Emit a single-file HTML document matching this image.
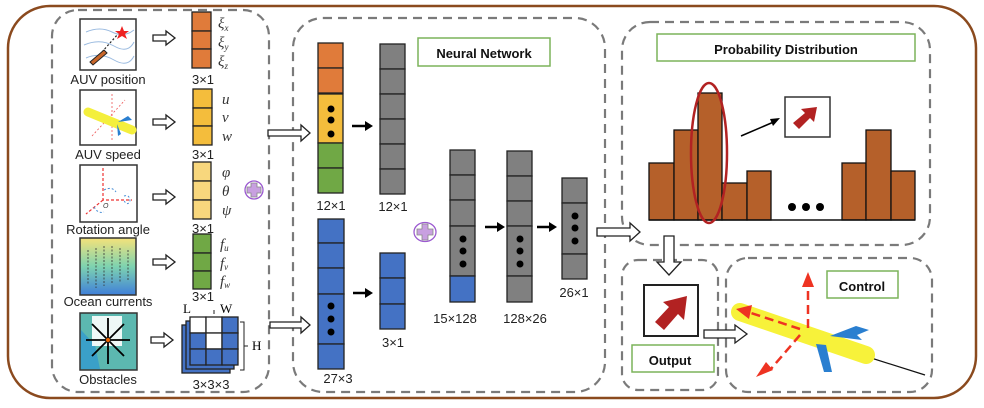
<!DOCTYPE html>
<html><head><meta charset="utf-8"><style>
html,body{margin:0;padding:0;background:#fff;}
svg{display:block;font-family:"Liberation Sans",sans-serif;}
.c{stroke:#222;stroke-width:1.3;}
.d{fill:none;stroke:#7a7a7a;stroke-width:2.2;stroke-dasharray:9 6;}
.h{fill:#fff;stroke:#222;stroke-width:1.3;}
.lb{font-size:13px;fill:#222;text-anchor:middle;}
.g{font-family:"Liberation Serif",serif;font-style:italic;font-size:15px;fill:#333;}
.t{font-weight:bold;font-size:13px;fill:#111;text-anchor:middle;}
</style></head><body>
<svg width="984" height="408" viewBox="0 0 984 408" xmlns="http://www.w3.org/2000/svg">
<rect x="8" y="6" width="968" height="392" rx="42" fill="#fff" stroke="#8b4a1e" stroke-width="2.5"/>
<!-- dashed boxes -->
<rect class="d" x="52" y="10" width="217" height="382" rx="26"/>
<rect class="d" x="293" y="18" width="312" height="374" rx="30"/>
<rect class="d" x="622" y="22" width="308" height="223" rx="28"/>
<rect class="d" x="622" y="260" width="96" height="130" rx="16"/>
<rect class="d" x="726" y="258" width="206" height="134" rx="22"/>

<!-- icons -->
<rect x="80" y="19" width="56" height="51" fill="#fff" stroke="#333" stroke-width="1.5"/>
<path d="M86,32 Q100,26 112,32 T134,30 M84,45 Q100,38 114,46 T134,42 M86,58 Q100,52 114,60 T134,56" fill="none" stroke="#9bbbe0" stroke-width="1"/>
<path d="M102,52 L118,34" stroke="#222" stroke-dasharray="2 2" stroke-width="1.2"/>
<path d="M90,62 L104,50 L107,53 L93,65 Z" fill="#c8662a" stroke="#222" stroke-width="1"/>
<polygon points="122,26 124,31 129,31 125,34 127,39 122,36 117,39 119,34 115,31 120,31" fill="#e22"/>
<text class="lb" x="108" y="84">AUV position</text>

<rect x="80" y="90" width="56" height="55" fill="#fff" stroke="#333" stroke-width="1.5"/>
<path d="M112,94 L112,140 M92,136 L125,100" stroke="#e55" stroke-dasharray="2 2" stroke-width="0.8"/>
<path d="M88,112 L132,130" stroke="#f4ef3c" stroke-width="9" stroke-linecap="round"/>
<path d="M118,122 L128,116 L132,120Z M117,124 L121,134 L118,136Z" fill="#2a7fd0"/>
<text class="lb" x="108" y="159">AUV speed</text>

<rect x="80" y="165" width="57" height="57" fill="#fff" stroke="#333" stroke-width="1.5"/>
<path d="M103,168 L103,200 L132,200 M103,200 L86,214" stroke="#e33" stroke-dasharray="3 2" stroke-width="1.2" fill="none"/>
<path d="M104,190 Q112,186 116,192 M94,207 Q98,214 104,212 M124,196 Q130,194 130,202 Q126,206 124,200" stroke="#4a8fd6" stroke-dasharray="2 2" fill="none"/>
<text x="103" y="208" font-size="7" font-style="italic" fill="#333">O</text>
<text class="lb" x="108" y="234">Rotation angle</text>

<defs><linearGradient id="oc" x1="0" y1="0" x2="0" y2="1"><stop offset="0" stop-color="#f5e27a"/><stop offset="0.5" stop-color="#7ed3b0"/><stop offset="1" stop-color="#3f7fd9"/></linearGradient></defs>
<rect x="80" y="238" width="56" height="57" fill="url(#oc)" stroke="#333" stroke-width="1.5"/>
<path d="M88,250 L88,285 M96,248 L96,288 M104,246 L104,286 M112,246 L112,284 M120,248 L120,282 M128,250 L128,280" stroke="#333" stroke-width="0.8" stroke-dasharray="2 1.5"/>
<text class="lb" x="108" y="306">Ocean currents</text>

<rect x="80" y="313" width="57" height="57" fill="#5cb8b0" stroke="#333" stroke-width="1.5"/>
<path d="M81,330 L95,345 L100,369 L81,369Z" fill="#3aa0c8"/>
<rect x="92" y="316" width="30" height="30" fill="#fff" opacity="0.9"/>
<g stroke="#000" stroke-width="1.8"><path d="M108,340 L108,318 M108,340 L108,364 M108,340 L86,340 M108,340 L130,340 M108,340 L92,324 M108,340 L124,324 M108,340 L92,356 M108,340 L124,356"/></g>
<circle cx="108" cy="340" r="2" fill="#e60"/>
<text class="lb" x="108" y="384">Obstacles</text>

<!-- hollow arrows left -->
<path class="h" d="M153,35 H166 V31 L175,38 L166,45 V41 H153Z"/>
<path class="h" d="M153,119 H166 V115 L175,122 L166,129 V125 H153Z"/>
<path class="h" d="M153,194 H166 V190 L175,197 L166,204 V200 H153Z"/>
<path class="h" d="M153,259 H166 V255 L175,262 L166,269 V265 H153Z"/>
<path class="h" d="M151,337 H164 V333 L173,340 L164,347 V343 H151Z"/>

<!-- input vectors -->
<g class="c">
<rect x="192" y="12" width="19" height="19" fill="#e07b3a"/><rect x="192" y="31" width="19" height="18" fill="#e07b3a"/><rect x="192" y="49" width="19" height="19" fill="#e07b3a"/>
<rect x="193" y="89" width="19" height="19" fill="#f4bd3c"/><rect x="193" y="108" width="19" height="18" fill="#f4bd3c"/><rect x="193" y="126" width="19" height="19" fill="#f4bd3c"/>
<rect x="193" y="162" width="18" height="19" fill="#f8d77d"/><rect x="193" y="181" width="18" height="19" fill="#f8d77d"/><rect x="193" y="200" width="18" height="19" fill="#f8d77d"/>
<rect x="193" y="234" width="18" height="19" fill="#70a845"/><rect x="193" y="253" width="18" height="18" fill="#70a845"/><rect x="193" y="271" width="18" height="18" fill="#70a845"/>
</g>
<text class="g" x="218" y="28">ξ<tspan font-size="9" dy="3">x</tspan></text>
<text class="g" x="218" y="47">ξ<tspan font-size="9" dy="3">y</tspan></text>
<text class="g" x="218" y="66">ξ<tspan font-size="9" dy="3">z</tspan></text>
<text class="lb" x="203" y="84">3×1</text>
<text class="g" x="222" y="104">u</text><text class="g" x="222" y="122">v</text><text class="g" x="222" y="141">w</text>
<text class="lb" x="203" y="159">3×1</text>
<text class="g" x="222" y="177">φ</text><text class="g" x="222" y="196">θ</text><text class="g" x="222" y="215">ψ</text>
<text class="lb" x="203" y="233">3×1</text>
<text class="g" x="220" y="249">f<tspan font-size="9" dy="2">u</tspan></text>
<text class="g" x="220" y="268">f<tspan font-size="9" dy="2">v</tspan></text>
<text class="g" x="220" y="286">f<tspan font-size="9" dy="2">w</tspan></text>
<text class="lb" x="203" y="301">3×1</text>

<!-- plus circles -->
<g>
<ellipse cx="254" cy="190" rx="9" ry="9" fill="#fff" stroke="#9b59d0" stroke-width="1.3"/>
<path d="M251,183 h6 v4 h4 v6 h-4 v4 h-6 v-4 h-4 v-6 h4z" fill="#c8a0e0" stroke="#888" stroke-width="0.8"/>
</g>
<g>
<ellipse cx="425" cy="232" rx="11" ry="9.5" fill="#fff" stroke="#9b59d0" stroke-width="1.3"/>
<path d="M422,224 h6 v5 h5 v6 h-5 v5 h-6 v-5 h-5 v-6 h5z" fill="#c8a0e0" stroke="#888" stroke-width="0.8"/>
</g>

<!-- cube -->
<g class="c">
<rect x="182" y="325" width="48" height="48" fill="#4472c4"/>
<rect x="186" y="321" width="48" height="48" fill="#4472c4"/>
<rect x="190" y="317" width="16" height="16" fill="#fff"/><rect x="206" y="317" width="16" height="16" fill="#fff"/><rect x="222" y="317" width="16" height="16" fill="#4472c4"/>
<rect x="190" y="333" width="16" height="16" fill="#4472c4"/><rect x="206" y="333" width="16" height="16" fill="#fff"/><rect x="222" y="333" width="16" height="16" fill="#4472c4"/>
<rect x="190" y="349" width="16" height="16" fill="#4472c4"/><rect x="206" y="349" width="16" height="16" fill="#4472c4"/><rect x="222" y="349" width="16" height="16" fill="#4472c4"/>
</g>
<path d="M240,322 H244 V370 H240 M244,346 H248 M214,314 V310" stroke="#222" fill="none"/>
<text x="183" y="313" font-family="Liberation Serif,serif" font-size="13">L</text>
<text x="220" y="313" font-family="Liberation Serif,serif" font-size="13">W</text>
<text x="252" y="350" font-family="Liberation Serif,serif" font-size="13">H</text>
<text class="lb" x="211" y="389">3×3×3</text>

<!-- arrows into NN -->
<path class="h" d="M268,130 H301 V125 L310,133 L301,141 V136 H268Z"/>
<path class="h" d="M270,322 H301 V317 L310,325 L301,333 V328 H270Z"/>

<!-- NN columns -->
<g class="c">
<rect x="318" y="43" width="25" height="25" fill="#e07b3a"/><rect x="318" y="68" width="25" height="25" fill="#e07b3a"/>
<rect x="318" y="94" width="25" height="49" fill="#f4bd3c"/>
<rect x="318" y="143" width="25" height="25" fill="#70a845"/><rect x="318" y="168" width="25" height="25" fill="#70a845"/>
<rect x="380" y="44" width="25" height="25" fill="#808080"/><rect x="380" y="69" width="25" height="25" fill="#808080"/><rect x="380" y="94" width="25" height="25" fill="#808080"/><rect x="380" y="119" width="25" height="25" fill="#808080"/><rect x="380" y="144" width="25" height="25" fill="#808080"/><rect x="380" y="169" width="25" height="25" fill="#808080"/>
<rect x="318" y="219" width="26" height="24" fill="#4472c4"/><rect x="318" y="243" width="26" height="25" fill="#4472c4"/><rect x="318" y="268" width="26" height="26" fill="#4472c4"/><rect x="318" y="294" width="26" height="50" fill="#4472c4"/><rect x="318" y="344" width="26" height="25" fill="#4472c4"/>
<rect x="380" y="253" width="25" height="25" fill="#4472c4"/><rect x="380" y="278" width="25" height="26" fill="#4472c4"/><rect x="380" y="304" width="25" height="25" fill="#4472c4"/>
<rect x="450" y="150" width="25" height="25" fill="#808080"/><rect x="450" y="175" width="25" height="25" fill="#808080"/><rect x="450" y="200" width="25" height="26" fill="#808080"/><rect x="450" y="226" width="25" height="50" fill="#808080"/><rect x="450" y="276" width="25" height="26" fill="#4472c4"/>
<rect x="507" y="151" width="25" height="25" fill="#808080"/><rect x="507" y="176" width="25" height="25" fill="#808080"/><rect x="507" y="201" width="25" height="25" fill="#808080"/><rect x="507" y="226" width="25" height="50" fill="#808080"/><rect x="507" y="276" width="25" height="26" fill="#808080"/>
<rect x="562" y="178" width="25" height="25" fill="#808080"/><rect x="562" y="203" width="25" height="51" fill="#808080"/><rect x="562" y="254" width="25" height="25" fill="#808080"/>
</g>
<g fill="#000">
<circle cx="331" cy="109" r="3.5"/><circle cx="331" cy="120" r="3.5"/><circle cx="331" cy="134" r="3.5"/>
<circle cx="331" cy="306" r="3.5"/><circle cx="331" cy="319" r="3.5"/><circle cx="331" cy="332" r="3.5"/>
<circle cx="463" cy="239" r="3.5"/><circle cx="463" cy="251" r="3.5"/><circle cx="463" cy="264" r="3.5"/>
<circle cx="520" cy="239" r="3.5"/><circle cx="520" cy="251" r="3.5"/><circle cx="520" cy="264" r="3.5"/>
<circle cx="575" cy="216" r="3.5"/><circle cx="575" cy="228" r="3.5"/><circle cx="575" cy="241" r="3.5"/>
</g>
<text class="lb" x="331" y="210">12×1</text>
<text class="lb" x="393" y="211">12×1</text>
<text class="lb" x="338" y="383">27×3</text>
<text class="lb" x="393" y="347">3×1</text>
<text class="lb" x="455" y="323">15×128</text>
<text class="lb" x="525" y="323">128×26</text>
<text class="lb" x="574" y="297">26×1</text>
<!-- solid arrows -->
<g fill="#000" stroke="#000" stroke-width="2.5">
<path d="M352,126 H366"/><path d="M353,293 H366"/><path d="M485,227 H498"/><path d="M537,227 H550"/>
</g>
<g fill="#000"><path d="M365,121 L373,126 L365,131Z"/><path d="M365,288 L373,293 L365,298Z"/><path d="M497,222 L505,227 L497,232Z"/><path d="M549,222 L557,227 L549,232Z"/></g>

<rect x="418" y="38" width="132" height="28" fill="#fff" stroke="#7cb35a" stroke-width="1.5"/>
<text class="t" x="484" y="58">Neural Network</text>

<!-- to prob -->
<path class="h" d="M597,228 H630 V223 L640,232 L630,241 V236 H597Z"/>

<rect x="657" y="34" width="258" height="27" fill="#fff" stroke="#7cb35a" stroke-width="1.5"/>
<text class="t" x="786" y="54">Probability Distribution</text>
<g fill="#b5602a" stroke="#111" stroke-width="1.3">
<rect x="649" y="163" width="25" height="57"/><rect x="674" y="130" width="24" height="90"/><rect x="698" y="93" width="24" height="127"/><rect x="722" y="183" width="25" height="37"/><rect x="747" y="171" width="24" height="49"/>
<rect x="842" y="163" width="24" height="57"/><rect x="866" y="130" width="25" height="90"/><rect x="891" y="171" width="24" height="49"/>
</g>
<path d="M649,220 H915" stroke="#111" stroke-width="1.5"/>
<circle cx="792" cy="207" r="4" fill="#000"/><circle cx="806" cy="207" r="4" fill="#000"/><circle cx="820" cy="207" r="4" fill="#000"/>
<ellipse cx="709" cy="153" rx="18" ry="70" fill="none" stroke="#b22222" stroke-width="2.5"/>
<path d="M741,136 L776,121" stroke="#000" stroke-width="1.5"/><path d="M780,118 L770,119 L773,126Z" fill="#000"/>
<rect x="785" y="97" width="45" height="40" fill="#fff" stroke="#333" stroke-width="1.5"/>
<path d="M793,123 L805,113 L801,109 L817,107 L814,122 L810,118 L799,129Z" fill="#b22222"/>

<!-- down arrow -->
<path class="h" d="M664,236 H674 V262 H681 L669,275 L657,262 H664Z"/>

<rect x="644" y="285" width="54" height="51" fill="#fff" stroke="#222" stroke-width="2"/>
<path d="M655,322 L669,307 L663,302 L687,296 L684,320 L678,314 L664,330Z" fill="#b22222"/>
<rect x="632" y="345" width="82" height="27" fill="#fff" stroke="#7cb35a" stroke-width="1.5"/>
<text class="t" x="670" y="365" style="font-size:13px">Output</text>

<path class="h" d="M704,330 H735 V325 L747,334 L735,343 V338 H704Z"/>

<rect x="827" y="271" width="71" height="27" fill="#fff" stroke="#7cb35a" stroke-width="1.5"/>
<text class="t" x="862" y="291">Control</text>

<!-- AUV -->
<path d="M868,357 L925,375" stroke="#111" stroke-width="1.2"/>
<path d="M740,312 L866,355" stroke="#f7f23a" stroke-width="18" stroke-linecap="round"/>
<path d="M830,336 L856,326 L869,330 L857,335 L862,340 Z" fill="#2a7fd0"/>
<path d="M816,344 L826,345 L832,372 L824,372 Z" fill="#2a7fd0"/>
<g stroke="#ee3322" stroke-width="2.5" fill="none" stroke-dasharray="9 5">
<path d="M808,328 L808,285"/><path d="M800,329 L748,312"/><path d="M800,335 L770,370"/>
</g>
<g fill="#ee3322"><path d="M802,287 L808,272 L814,287Z"/><path d="M752,305 L736,309 L749,319Z"/><path d="M766,362 L756,377 L773,370Z"/></g>
</svg>
</body></html>
